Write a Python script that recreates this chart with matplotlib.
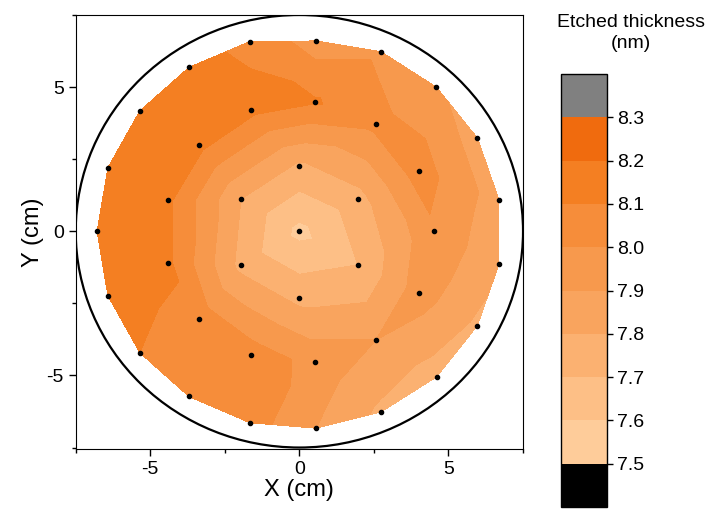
import numpy as np
import matplotlib
matplotlib.use("Agg")
import matplotlib.pyplot as plt
from matplotlib.colors import ListedColormap, BoundaryNorm
from matplotlib.patches import Circle
from matplotlib.ticker import MultipleLocator

plt.rcParams['font.family'] = ['Liberation Sans', 'DejaVu Sans']
plt.rcParams['axes.unicode_minus'] = False

# measurement points on the wafer (cm)
x = [0.0,
     0.0, 1.96, 1.96, 0.0, -1.96, -1.96,
     0.54, 2.57, 4.01, 4.52, 4.01, 2.57, 0.54, -1.61, -3.36, -4.39, -4.40, -3.36, -1.61,
     0.56, 2.73, 4.59, 5.97, 6.69, 6.69, 5.97, 4.60, 2.73, 0.56,
     -1.66, -3.70, -5.35, -6.42, -6.78, -6.42, -5.35, -3.70, -1.66]
y = [0.0,
     2.26, 1.11, -1.16, -2.30, -1.16, 1.11,
     4.49, 3.72, 2.08, 0.0, -2.14, -3.77, -4.54, -4.28, -3.04, -1.11, 1.07, 2.99, 4.22,
     6.60, 6.23, 5.00, 3.23, 1.10, -1.15, -3.27, -5.05, -6.27, -6.83,
     -6.64, -5.73, -4.21, -2.23, 0.0, 2.20, 4.17, 5.68, 6.58]
# etched thickness (nm)
thk = [7.57,
       7.78, 7.76, 7.70, 7.77, 7.77, 7.80,
       8.11, 8.03, 8.05, 7.98, 7.95, 7.90, 7.97, 8.05, 8.06, 8.12, 8.12, 8.13, 8.13,
       7.95, 7.98, 7.92, 7.85, 7.85, 7.82, 7.78, 7.75, 7.78, 7.90,
       8.05, 8.05, 8.10, 8.15, 8.15, 8.15, 8.15, 8.13, 8.08]

levels = [7.5, 7.6, 7.7, 7.8, 7.9, 8.0, 8.1, 8.2, 8.3]
band_colors = ['#FECC9A', '#FDBF86', '#FBB171', '#F9A45E',
               '#F7994D', '#F68D3A', '#F47F22', '#F06B0E']

cmap = ListedColormap(band_colors)
cmap.set_under('black')
cmap.set_over('#808080')
norm = BoundaryNorm(levels, cmap.N)

fig = plt.figure(figsize=(7.12, 5.13), dpi=100)
ax = fig.add_axes([0.1063, 0.1248, 0.6283, 0.846])
cax = fig.add_axes([0.788, 0.0117, 0.0646, 0.844])

cs = ax.tricontourf(x, y, thk, levels=levels, cmap=cmap, norm=norm, extend='both')
ax.plot(x, y, 'o', color='black', markersize=3)
ax.add_patch(Circle((0, 0), 7.5, fill=False, edgecolor='black', linewidth=1.6))

ax.set_xlim(-7.5, 7.5)
ax.set_ylim(-7.55, 7.5)
ax.xaxis.set_major_locator(MultipleLocator(5))
ax.xaxis.set_minor_locator(MultipleLocator(2.5))
ax.yaxis.set_major_locator(MultipleLocator(5))
ax.yaxis.set_minor_locator(MultipleLocator(2.5))
ax.tick_params(which='major', direction='out', length=5, width=1, labelsize=14)
ax.tick_params(which='minor', direction='out', length=3, width=1)
ax.set_xlabel('X (cm)', fontsize=17, labelpad=1)
ax.set_ylabel('Y (cm)', fontsize=17, labelpad=2)

cb = fig.colorbar(cs, cax=cax, extendrect=True, extendfrac=0.125)
cb.set_ticks(levels)
cb.ax.tick_params(labelsize=14, length=4, width=1)
cb.outline.set_linewidth(1)
fig.text(0.886, 0.936, 'Etched thickness\n(nm)', ha='center', va='center',
         fontsize=14, linespacing=1.35)

fig.savefig('out.png', dpi=100)
